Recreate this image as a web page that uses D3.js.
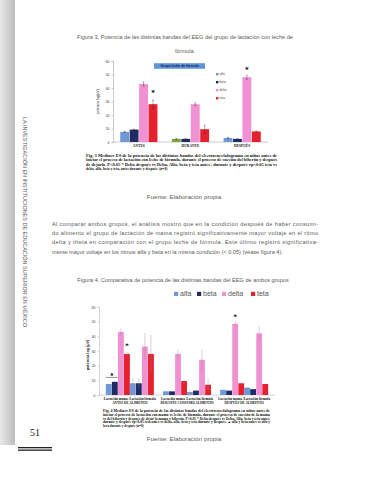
<!DOCTYPE html>
<html>
<head>
<meta charset="utf-8">
<script src="https://cdn.jsdelivr.net/npm/d3@7"></script>
<style>
  html, body { margin: 0; padding: 0; background: #fff; }
  svg { display: block; }
  .body-text { font-family: "Liberation Sans", Arial, sans-serif; fill: #5a5a5a; }
  .cap { font-family: "Liberation Serif", "DejaVu Serif", serif; font-weight: bold; fill: #111; }
  .tick text { font-family: "Liberation Sans", sans-serif; fill: #333; }
</style>
</head>
<body>
<svg id="page" width="370" height="480"></svg>
<script>
// ---- data read from the page ----
const bands = ['alfa', 'beta', 'delta', 'teta'];

// Figura 3: grupo leche de fórmula
const conditions1 = ['ANTES', 'DURANTE', 'DESPUÉS'];
const formulaMeans = [[7.5, 9.2, 43, 28], [2.3, 2.3, 28, 9.5], [3, 2.3, 48, 7.8]];
const formulaErrors = [[0.4, 0.3, 1.5, 3], [0.3, 0.3, 1, 3], [0.5, 0.3, 1.5, 0.4]];

// Figura 4: ambos grupos
const conditions2 = ['ANTES DE ALIMENTO', 'DURANTE  CONSUMO ALIMENTO', 'DESPUÉS DE ALIMENTO'];
const groups2 = ['Lactación mama', 'Lactación fórmula'];
const mamaMeans = [[7.5, 9, 43, 28], [2.5, 2.5, 28, 9.5], [3.5, 3, 48.5, 8]];
const mamaErrors = [[0.3, 0.3, 2.5, 1.5], [0.3, 0.3, 3, 1.5], [0.3, 0.3, 1.5, 0.5]];
const leche2Means = [[8, 8, 33, 28], [2, 3, 24, 7], [5, 4, 42, 7.5]];
const leche2Errors = [[4, 3.5, 9, 13], [2, 0.5, 7, 4], [0.5, 0.3, 5, 0.3]];

const yTicks = [0, 10, 20, 30, 40, 50, 60];

const color = d3.scaleOrdinal()
  .domain(bands)
  .range(['#7098d6', '#1e2c63', '#f190d2', '#e4212c']);

const svg = d3.select('#page');
svg.append('rect').attr('width', 370).attr('height', 480).attr('fill', '#fff');

// ---- page furniture ----
const grad = svg.append('defs').append('linearGradient')
  .attr('id', 'side').attr('x1', 0).attr('x2', 1);
grad.append('stop').attr('offset', 0).attr('stop-color', '#e8e8e8');
grad.append('stop').attr('offset', 1).attr('stop-color', '#bdbdbd');
svg.append('rect').attr('x', 0).attr('y', 0).attr('width', 15).attr('height', 445)
  .attr('fill', 'url(#side)');

svg.append('text')
  .attr('class', 'body-text')
  .attr('transform', 'translate(23,222) rotate(90)')
  .attr('text-anchor', 'middle')
  .attr('font-size', 5)
  .attr('font-family', '"Liberation Sans Narrow", "DejaVu Sans Condensed", sans-serif')
  .attr('fill', '#333')
  .attr('textLength', 210)
  .attr('lengthAdjust', 'spacingAndGlyphs')
  .text('LA INVESTIGACIÓN EN INSTITUCIONES DE EDUCACIÓN SUPERIOR EN MÉXICO');

svg.append('text')
  .attr('x', 35).attr('y', 436)
  .attr('text-anchor', 'middle')
  .attr('font-family', '"Liberation Serif", serif')
  .attr('font-size', 10)
  .attr('fill', '#222')
  .text('51');
svg.append('rect').attr('x', 18).attr('y', 447).attr('width', 34).attr('height', 1.3).attr('fill', '#222');
svg.append('rect').attr('x', 18).attr('y', 449.5).attr('width', 34).attr('height', 1.3).attr('fill', '#222');

function bodyLines(lines, x0, x1, y0, lh, size, justifyLast) {
  lines.forEach((t, i) => {
    const el = svg.append('text')
      .attr('class', 'body-text')
      .attr('x', x0).attr('y', y0 + i * lh)
      .attr('font-size', size)
      .text(t);
    if (i < lines.length - 1 || justifyLast) {
      el.attr('textLength', x1 - x0).attr('lengthAdjust', 'spacing');
    }
  });
}

function centered(t, x, y, size) {
  svg.append('text')
    .attr('class', 'body-text')
    .attr('x', x).attr('y', y)
    .attr('text-anchor', 'middle')
    .attr('font-size', size)
    .text(t);
}

function captionLines(lines, x0, x1, y0, lh, size) {
  lines.forEach((t, i) => {
    const el = svg.append('text')
      .attr('class', 'cap')
      .attr('x', x0).attr('y', y0 + i * lh)
      .attr('font-size', size)
      .text(t);
    if (i < lines.length - 1) {
      el.attr('textLength', x1 - x0).attr('lengthAdjust', 'spacingAndGlyphs');
    }
  });
}

centered('Figura 3. Potencia de las distintas bandas del EEG del grupo de lactación con leche de', 185, 39, 5.6);
centered('fórmula.', 185, 53, 5.6);

// ---- Figura 3 chart ----
const c1 = { left: 113, right: 268, top: 61, bottom: 142 };
const y1 = d3.scaleLinear().domain([0, 60]).range([c1.bottom, c1.top]);
const x1 = d3.scaleBand().domain(conditions1).range([c1.left, c1.right]).paddingInner(0.28).paddingOuter(0.14);
const xb1 = d3.scaleBand().domain(bands).range([0, x1.bandwidth()]).paddingInner(0.06);

const g1 = svg.append('g');
g1.append('g')
  .attr('class', 'tick-axis')
  .attr('transform', `translate(${c1.left},0)`)
  .call(d3.axisLeft(y1).tickValues(yTicks).tickSize(1.5).tickPadding(2))
  .call(g => g.select('.domain').attr('stroke', '#999').attr('stroke-width', 0.5))
  .call(g => g.selectAll('.tick line').attr('stroke', '#999').attr('stroke-width', 0.5))
  .call(g => g.selectAll('.tick text').attr('font-size', 3.4));
g1.append('line')
  .attr('x1', c1.left).attr('x2', c1.right)
  .attr('y1', y1(0)).attr('y2', y1(0))
  .attr('stroke', '#999').attr('stroke-width', 0.5);

const rows1 = conditions1.flatMap((c, i) => bands.map((b, j) => ({
  cond: c, band: b, v: formulaMeans[i][j], e: formulaErrors[i][j]
})));

const cells1 = g1.selectAll('.bar').data(rows1).enter().append('g')
  .attr('transform', d => `translate(${x1(d.cond) + xb1(d.band)},0)`);
cells1.append('rect')
  .attr('y', d => y1(d.v))
  .attr('width', xb1.bandwidth())
  .attr('height', d => y1(0) - y1(d.v))
  .attr('fill', d => (d.cond === 'DURANTE' && d.band === 'alfa') ? '#79a33f' : color(d.band));
cells1.append('path')
  .attr('d', d => {
    const cx = xb1.bandwidth() / 2;
    return `M${cx},${y1(d.v + d.e)}V${y1(d.v - d.e)}M${cx - 1},${y1(d.v + d.e)}h2M${cx - 1},${y1(d.v - d.e)}h2`;
  })
  .attr('stroke', '#222').attr('stroke-width', 0.35).attr('fill', 'none');

// stars on significant bars
const stars1 = [{ cond: 'ANTES', band: 'teta', y: 36 }, { cond: 'DESPUÉS', band: 'delta', y: 53.5 }];
g1.selectAll('.star').data(stars1).enter().append('text')
  .attr('x', d => x1(d.cond) + xb1(d.band) + xb1.bandwidth() / 2)
  .attr('y', d => y1(d.y) + 2)
  .attr('text-anchor', 'middle')
  .attr('font-size', 7).attr('font-weight', 'bold')
  .attr('font-family', '"DejaVu Sans", sans-serif')
  .text('*');

g1.selectAll('.xl').data(conditions1).enter().append('text')
  .attr('class', 'cap')
  .attr('x', d => x1(d) + x1.bandwidth() / 2)
  .attr('y', y1(0) + 5)
  .attr('text-anchor', 'middle')
  .attr('font-size', 3.6)
  .text(d => d);

g1.append('text')
  .attr('transform', `translate(${c1.left - 14},${(c1.top + c1.bottom) / 2}) rotate(-90)`)
  .attr('text-anchor', 'middle')
  .attr('font-family', '"Liberation Sans", sans-serif')
  .attr('font-size', 3.4).attr('fill', '#222')
  .text('potencia log(µV)');

// title box
g1.append('rect').attr('x', 154).attr('y', 63.2).attr('width', 51).attr('height', 5.6).attr('fill', '#5f94d9');
g1.append('text')
  .attr('x', 179.5).attr('y', 67.2)
  .attr('text-anchor', 'middle')
  .attr('font-family', '"Liberation Sans", sans-serif')
  .attr('font-weight', 'bold').attr('font-size', 3.4).attr('fill', '#0d1f4a')
  .text('Grupo leche de fórmula');

const leg1 = g1.selectAll('.leg').data(bands).enter().append('g')
  .attr('transform', (d, i) => `translate(216,${75 + i * 8})`);
leg1.append('rect').attr('width', 2.4).attr('height', 2.4).attr('y', -2).attr('fill', d => color(d));
leg1.append('text')
  .attr('x', 3.6).attr('y', 0.3)
  .attr('font-family', '"Liberation Sans", sans-serif')
  .attr('font-size', 3.2).attr('fill', '#444')
  .text(d => d);

captionLines([
  'Fig. 3 Medias± ES de la potencia de las distintas bandas del electroencefalograma en niños  antes de',
  'iniciar el proceso de lactación con leche de fórmula, durante el proceso de succión del biberón  y después',
  'de dejarlo. P<0.05 * Delta después vs Delta, Alfa, beta  y teta antes , durante y después  ±p<0.05 teta vs',
  'delta, alfa, beta y teta, antes durante y después.        (n=8)'
], 86, 277, 157, 4.3, 3.6);

centered('Fuente: Elaboración propia', 184, 199, 6.2);

bodyLines([
  'Al comparar ambos grupos, el análisis mostró que en la condición después de haber consumi-',
  'do alimento el grupo de lactación de mama registró significativamente mayor voltaje en el ritmo',
  'delta y theta en comparación con el grupo leche de fórmula. Este último registró significativa-',
  'mente mayor voltaje en los ritmos alfa y beta en la misma condición (< 0.05) (véase figura 4).'
], 52, 318, 226, 9.2, 5.6, false);

centered('Figura 4. Comparativa de potencia de las distintas bandas del EEG de ambos grupos', 183, 282, 5.6);

// ---- Figura 4 chart ----
const c2 = { left: 99, right: 275, top: 307, bottom: 395 };
const y2 = d3.scaleLinear().domain([0, 60]).range([c2.bottom, c2.top]);
const x2 = d3.scaleBand().domain(conditions2).range([c2.left, c2.right]).paddingInner(0.16).paddingOuter(0.12);
const xg2 = d3.scaleBand().domain(groups2).range([0, x2.bandwidth()]);
const xb2 = d3.scaleBand().domain(bands).range([0, xg2.bandwidth()]).paddingInner(0.04);

const g2 = svg.append('g');
g2.append('g')
  .attr('transform', `translate(${c2.left},0)`)
  .call(d3.axisLeft(y2).tickValues(yTicks).tickSize(1.5).tickPadding(2))
  .call(g => g.select('.domain').attr('stroke', '#aaa').attr('stroke-width', 0.5))
  .call(g => g.selectAll('.tick line').attr('stroke', '#aaa').attr('stroke-width', 0.5))
  .call(g => g.selectAll('.tick text').attr('font-size', 3.4));
g2.append('line')
  .attr('x1', c2.left).attr('x2', c2.right)
  .attr('y1', y2(0)).attr('y2', y2(0))
  .attr('stroke', '#aaa').attr('stroke-width', 0.5);

const rows2 = conditions2.flatMap((c, i) => [
  ...bands.map((b, j) => ({ cond: c, grp: groups2[0], band: b, v: mamaMeans[i][j], e: mamaErrors[i][j] })),
  ...bands.map((b, j) => ({ cond: c, grp: groups2[1], band: b, v: leche2Means[i][j], e: leche2Errors[i][j] }))
]);

const cells2 = g2.selectAll('.bar').data(rows2).enter().append('g')
  .attr('transform', d => `translate(${x2(d.cond) + xg2(d.grp) + xb2(d.band)},0)`);
cells2.append('rect')
  .attr('y', d => y2(d.v))
  .attr('width', xb2.bandwidth())
  .attr('height', d => y2(0) - y2(d.v))
  .attr('fill', d => color(d.band));
cells2.append('path')
  .attr('d', d => {
    const cx = xb2.bandwidth() / 2;
    return `M${cx},${y2(d.v + d.e)}V${y2(Math.max(0, d.v - d.e))}`;
  })
  .attr('stroke', '#9a8a9a').attr('stroke-width', 0.4).attr('fill', 'none');

const stars2 = [
  { cond: conditions2[0], grp: groups2[0], band: 'teta', y: 33.5 },
  { cond: conditions2[2], grp: groups2[0], band: 'delta', y: 53 }
];
g2.selectAll('.star').data(stars2).enter().append('text')
  .attr('x', d => x2(d.cond) + xg2(d.grp) + xb2(d.band) + xb2.bandwidth() / 2)
  .attr('y', d => y2(d.y) + 2)
  .attr('text-anchor', 'middle')
  .attr('font-size', 6.5).attr('font-weight', 'bold')
  .attr('font-family', '"DejaVu Sans", sans-serif')
  .text('*');

// triangle marker above alfa/beta antes (mama)
const triX = x2(conditions2[0]) + xg2(groups2[0]);
g2.append('line')
  .attr('x1', triX + xb2('alfa')).attr('x2', triX + xb2('beta') + xb2.bandwidth())
  .attr('y1', y2(12)).attr('y2', y2(12))
  .attr('stroke', '#222').attr('stroke-width', 0.5);
g2.append('path')
  .attr('d', d3.symbol(d3.symbolTriangle, 5)())
  .attr('transform', `translate(${triX + xb2('beta')},${y2(14)})`)
  .attr('fill', '#222');

g2.selectAll('.xl').data(conditions2).enter().append('text')
  .attr('class', 'cap')
  .attr('x', d => x2(d) + x2.bandwidth() / 2)
  .attr('y', y2(0) + 4.8)
  .attr('text-anchor', 'middle')
  .attr('font-size', 3.3)
  .attr('textLength', 52).attr('lengthAdjust', 'spacingAndGlyphs')
  .text(groups2[0] + ' /' + groups2[1]);
g2.selectAll('.xl2').data(conditions2).enter().append('text')
  .attr('class', 'cap')
  .attr('x', d => x2(d) + x2.bandwidth() / 2)
  .attr('y', y2(0) + 9)
  .attr('text-anchor', 'middle')
  .attr('font-size', 3.3)
  .text(d => d);

g2.append('text')
  .attr('transform', `translate(${c2.left - 10},${(c2.top + c2.bottom) / 2 + 4}) rotate(-90)`)
  .attr('text-anchor', 'middle')
  .attr('font-family', '"Liberation Sans", sans-serif')
  .attr('font-weight', 'bold')
  .attr('font-size', 3.8).attr('fill', '#222')
  .text('potencia log (µV)');

const leg2 = g2.selectAll('.leg').data(bands).enter().append('g')
  .attr('transform', (d, i) => `translate(${[174, 197, 222, 251][i]},296)`);
leg2.append('rect').attr('width', 4.2).attr('height', 4.2).attr('y', -4.2).attr('fill', d => color(d));
leg2.append('text')
  .attr('x', 6).attr('y', 0)
  .attr('font-family', '"Liberation Sans", sans-serif')
  .attr('font-size', 7).attr('fill', '#555')
  .text(d => d);

captionLines([
  'Fig. 4 Medias± ES de la potencia de las distintas bandas del electroencefalograma en niños  antes de',
  'iniciar el proceso de lactación con mama vs leche de fórmula, durante el proceso de succión de la mama',
  'vs  del biberón  y después de dejar la mama y  biberón.  P<0.05 * Delta después vs Delta, Alfa, beta y teta antes,',
  'durante y después ±p<0.05 teta antes  vs  delta, alfa, beta y teta durante y después.   ▲ alfa y beta antes vs alfa y',
  'beta durante y después (n=8)'
], 103, 270, 412, 3.8, 3.3);

centered('Fuente: Elaboración propia', 184, 441, 6.2);
</script>
</body>
</html>
